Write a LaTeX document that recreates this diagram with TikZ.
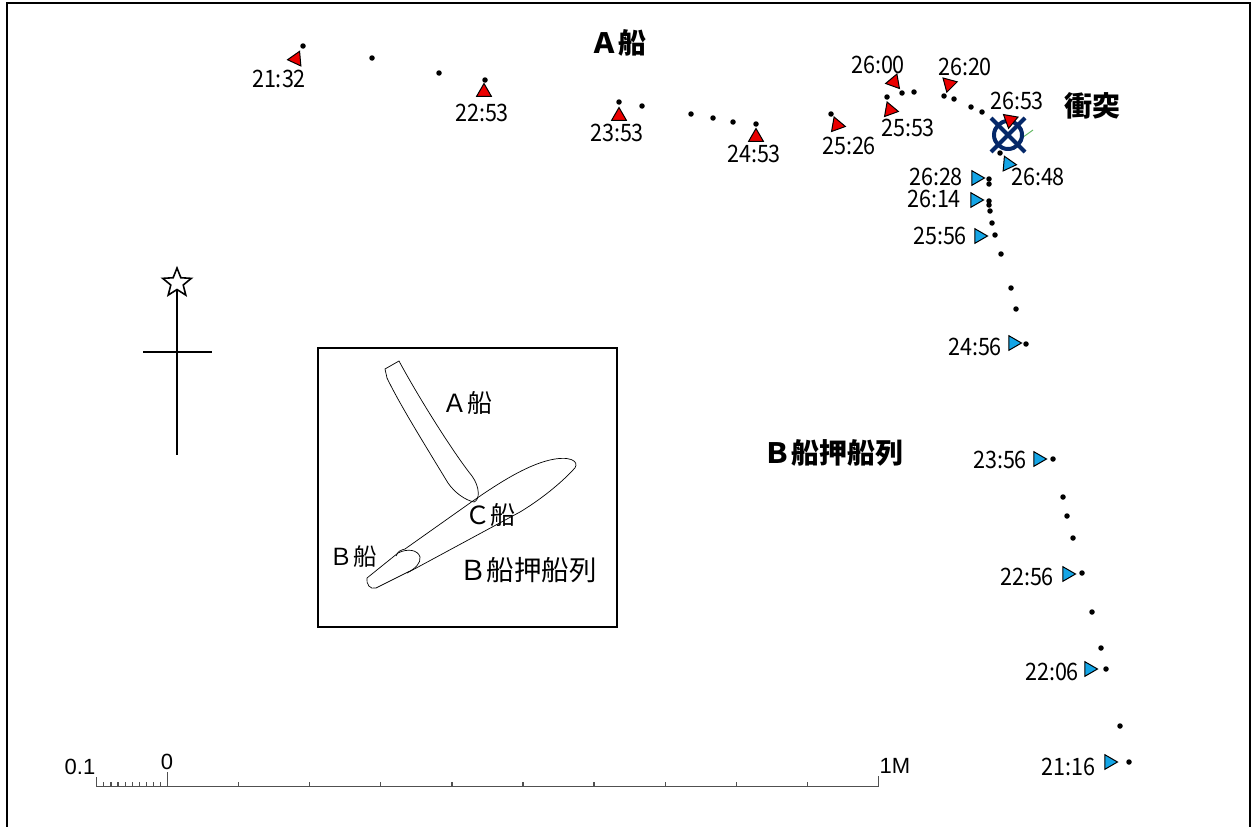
\documentclass[tikz,border=0pt]{standalone}
\usepackage{fontspec}
\newfontfamily\jpfont{Noto Sans CJK JP}
\newfontfamily\jpnarrow[FakeStretch=0.9]{Noto Sans CJK JP}
\newfontfamily\arialfont{Liberation Sans}
\usetikzlibrary{shapes.geometric, positioning}

\definecolor{trackred}{RGB}{235,0,0}
\definecolor{trackblue}{RGB}{20,165,230}
\definecolor{hitblue}{RGB}{5,40,105}
\definecolor{scalegray}{RGB}{80,80,80}

\begin{document}
\begin{tikzpicture}[
  x=1pt, y=-1pt,
  dot/.style={circle, fill=black, inner sep=0pt, minimum size=5.5pt},
  tri/.style={regular polygon, regular polygon sides=3, draw=black, line width=1pt,
              inner sep=0pt, minimum size=17pt},
  redtri/.style={tri, fill=trackred},
  bluetri/.style={tri, fill=trackblue},
  tlabel/.style={font=\jpnarrow\fontsize{24}{24}\selectfont, inner sep=0pt},
  title/.style={font=\jpfont\bfseries\fontsize{28}{28}\selectfont, inner sep=0pt},
  shiptext/.style={font=\jpfont\fontsize{25}{25}\selectfont, inner sep=0pt},
  scaletext/.style={font=\arialfont\fontsize{22}{22}\selectfont, inner sep=0pt},
]
\useasboundingbox (0,0) rectangle (1251,827);

%% Frame
\draw[line width=2pt] (7,827) -- (7,3) -- (1250,3) -- (1250,827);

%% Track of ship A
\foreach \x/\y [count=\i] in {303/46, 372/58, 439/73, 485/80, 619/102, 642/106,
    691/114, 713/118, 733/122, 756/124, 831/114, 887/97, 902/93, 914/92,
    944/96, 954/99, 971/107, 982/112}
  \node[dot] (a\i) at (\x,\y) {};

\node[redtri, rotate=95]   (ta1) at (296,59)  {};
\node[redtri]              (ta2) at (484,92)  {};
\node[redtri]              (ta3) at (619,116) {};
\node[redtri]              (ta4) at (756,137) {};
\node[redtri, rotate=-100] (ta5) at (837,125) {};
\node[redtri, rotate=-100] (ta6) at (890,110) {};
\node[redtri, rotate=100]  (ta7) at (894,82)  {};
\node[redtri, rotate=165]  (ta8) at (949,84)  {};

\node[tlabel] (la1) at (279,79)  {21:32};
\node[tlabel] (la2) at (482,113) {22:53};
\node[tlabel] (la3) at (617,133) {23:53};
\node[tlabel] (la4) at (754,154) {24:53};
\node[tlabel] (la5) at (849,146) {25:26};
\node[tlabel] (la6) at (908,128) {25:53};
\node[tlabel] (la7) at (878,65)  {26:00};
\node[tlabel] (la8) at (965,67)  {26:20};
\node[tlabel] (la9) at (1017,101) {26:53};

%% Track of the B pushed barge train
\foreach \x/\y [count=\i] in {1129/762, 1120/726, 1106/669, 1101/648, 1092/612,
    1082/573, 1073/538, 1067/516, 1063/497, 1053/459, 1026/344, 1016/309,
    1011/288, 1001/254, 995/235, 992/223, 990/211, 989/205, 989/201,
    989/184, 989/179, 1000/153}
  \node[dot] (b\i) at (\x,\y) {};

\node[bluetri, rotate=-90] (tb1)  at (1109,762) {};
\node[bluetri, rotate=-90] (tb2)  at (1067,574) {};
\node[bluetri, rotate=-90] (tb3)  at (1089,669) {};
\node[bluetri, rotate=-90] (tb4)  at (1038,459) {};
\node[bluetri, rotate=-90] (tb5)  at (1013,343) {};
\node[bluetri, rotate=-90] (tb6)  at (979,236)  {};
\node[bluetri, rotate=-90] (tb7)  at (975,200)  {};
\node[bluetri, rotate=-90] (tb8)  at (976,178)  {};
\node[bluetri, rotate=-95] (tb9)  at (1008,164) {};

\node[tlabel] (lb1) at (1068,767) {21:16};
\node[tlabel] (lb2) at (1027,577) {22:56};
\node[tlabel] (lb3) at (1052,672) {22:06};
\node[tlabel] (lb4) at (1000,460) {23:56};
\node[tlabel] (lb5) at (975,347)  {24:56};
\node[tlabel] (lb6) at (940,236)  {25:56};
\node[tlabel] (lb7) at (934,199)  {26:14};
\node[tlabel] (lb8) at (936,177)  {26:28};
\node[tlabel] (lb9) at (1038,177) {26:48};

%% Collision mark
\draw[green!55!black!60, line width=1pt] (1019,140) -- (1033,130);
\node[circle, draw=hitblue, line width=4pt, minimum size=28pt, inner sep=0pt] (hit) at (1008,135) {};
\draw[hitblue, line width=4pt] (991,118) -- (1025,152);
\draw[hitblue, line width=4pt] (991,152) -- (1025,118);
\node[redtri, rotate=-70] (ta9) at (1010,120) {};

%% Titles
\node[title] (shipA)  at (618,43)   {Ａ船};
\node[title] (trainB) at (833,453)  {Ｂ船押船列};
\node[title] (crash)  at (1092,106) {衝突};

%% North arrow
\node[star, star points=5, star point ratio=2.3, draw, line width=1.6pt, fill=white,
      minimum size=30pt, inner sep=0pt] (north) at (177,283) {};
\coordinate (nbot) at (177,455);
\coordinate (ewl)  at (143,352);
\coordinate (ewr)  at (212,352);
\draw[line width=1.6pt] (north.south) -- (nbot);
\draw[line width=1.6pt] (ewl) -- (ewr);

%% Inset: situation at the collision
\node[draw, line width=1.2pt, minimum width=299pt, minimum height=279pt, inner sep=0pt]
  (inset) at (467.5,487.5) {};
% A ship
\draw[line width=0.7pt] (385,369) -- (399,361)
  .. controls (420,400) and (455,455) .. (472,476)
  .. controls (480,487) and (480,500) .. (474,502)
  .. controls (465,500) and (455,493) .. (448,483)
  .. controls (425,445) and (400,405) .. (387,378) -- cycle;
% C ship (barge)
\draw[line width=0.7pt] (396,556) .. controls (398,551) and (401,550) .. (405,549)
  -- (470,503) .. controls (500,482) and (530,463) .. (555,459)
  .. controls (575,456) and (580,464) .. (573,470)
  .. controls (560,484) and (540,500) .. (520,512)
  -- (407,573);
% B ship (pusher)
\draw[line width=0.7pt] (398,553) .. controls (408,548) and (418,550) .. (420,557)
  .. controls (421,563) and (415,569) .. (408,572) -- (376,588)
  .. controls (370,590) and (366,584) .. (367,578) -- cycle;
\node[shiptext] (iA)  at (467,403) {Ａ船};
\node[shiptext] (iC)  at (490,515) {Ｃ船};
\node[shiptext, font=\jpfont\fontsize{23.5}{23.5}\selectfont] (iB) at (353,557) {Ｂ船};
\node[shiptext, font=\jpfont\fontsize{27.5}{27.5}\selectfont] (iT) at (528,570) {Ｂ船押船列};

%% Scale bar
\begin{scope}[scalegray, line width=1.2pt]
  \draw (96.7,786.7) -- (878.3,786.7);
  \draw (96.7,786.7) -- (96.7,777);
  \foreach \k in {1,...,9}
    \draw (96.7+7.1*\k,786.7) -- (96.7+7.1*\k,781.5);
  \draw (167.7,786.7) -- (167.7,771.5);
  \foreach \k in {1,...,9}
    \draw (167.7+71.06*\k,786.7) -- (167.7+71.06*\k,781.5);
  \draw (878.3,786.7) -- (878.3,776);
\end{scope}
\node[scaletext] (s01) at (80,767)  {0.1};
\node[scaletext] (s0)  at (167,762) {0};
\node[scaletext] (s1M) at (895,766) {1M};

\end{tikzpicture}
\end{document}
